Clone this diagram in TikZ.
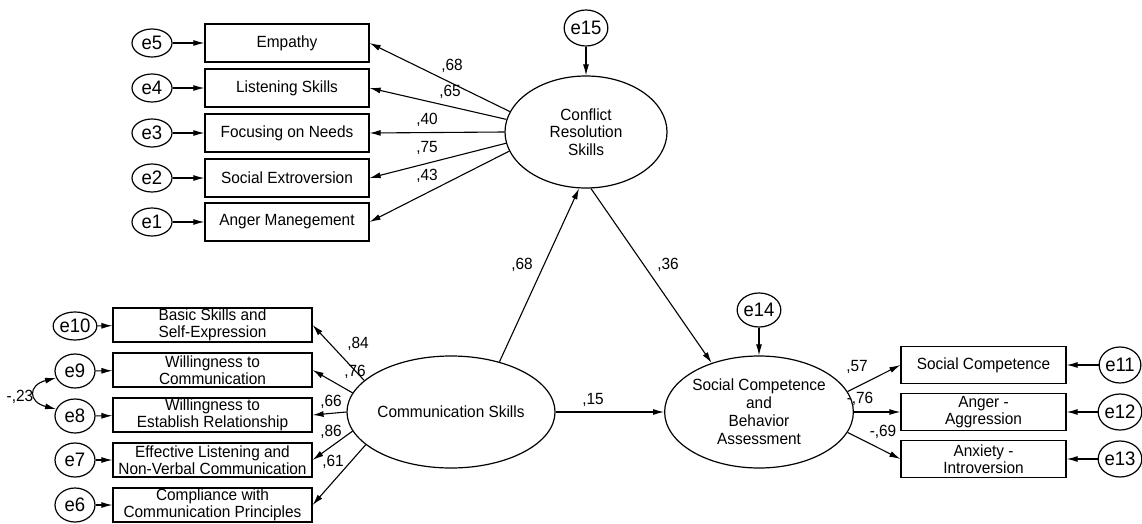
\documentclass[tikz,border=0pt]{standalone}
\usepackage{fontspec}
\setmainfont[FakeStretch=0.95]{Liberation Sans}
\usetikzlibrary{arrows.meta,shapes.geometric}
\begin{document}
\begin{tikzpicture}[x=1pt,y=-1pt,
  every node/.style={inner sep=0pt},
  obs/.style={draw, line width=1.2pt, rectangle, align=center, font=\fontsize{16.2}{17}\selectfont},
  lat/.style={draw, ellipse, line width=1.2pt, minimum width=162pt, minimum height=112pt, align=center, font=\fontsize{16.2}{17.5}\selectfont},
  err/.style={draw, ellipse, line width=1.2pt, minimum width=40pt, minimum height=34pt, font=\fontsize{19.5}{20}\selectfont},
  errs/.style={err, minimum height=28pt},
  arr/.style={-{Latex[length=11pt,width=6pt]}, line width=1.1pt},
  lbl/.style={font=\fontsize{16.2}{17}\selectfont}
]
\useasboundingbox (0,0) rectangle (1142,524);

% top measured block
\foreach \n/\t/\y in {emp/Empathy/43, lis/Listening Skills/88, foc/Focusing on Needs/133, soc/Social Extroversion/178, ang/Anger Manegement/222}{
  \node[obs, minimum width=164pt, minimum height=38pt] (\n) at (287,\y) {\t};
}
\foreach \e/\y in {5/43, 4/88, 3/133, 2/178, 1/222}{
  \node[errs] (e\e) at (152,\y) {e\e};
}
\draw[arr] (e5) -- (emp);
\draw[arr] (e4) -- (lis);
\draw[arr] (e3) -- (foc);
\draw[arr] (e2) -- (soc);
\draw[arr] (e1) -- (ang);

% Conflict resolution
\node[lat] (cr) at (586,132) {Conflict\\Resolution\\Skills};
\node[err, minimum height=36pt] (e15) at (586,28) {e15};
\draw[arr] (e15) -- (cr);
\draw[arr] (cr.165) -- (emp.east);
\draw[arr] (cr.171) -- (lis.east);
\draw[arr] (cr.180) -- (foc.east);
\draw[arr] (cr.188) -- (soc.east);
\draw[arr] (cr.194) -- (ang.east);
\node[lbl] (l68a) at (452,66) {,68};
\node[lbl] (l65) at (450,92) {,65};
\node[lbl] (l40) at (427,120) {,40};
\node[lbl] (l75) at (427,148) {,75};
\node[lbl] (l43) at (427,176) {,43};

% Communication skills
\node[lat, font=\fontsize{16.2}{17}\selectfont] (com) at (451,412) {Communication Skills};
\node[obs, minimum width=199pt, minimum height=34pt] (bas) at (212.5,325) {Basic Skills and\\Self-Expression};
\node[obs, minimum width=199pt, minimum height=34pt] (wic) at (212.5,370) {Willingness to\\Communication};
\node[obs, minimum width=199pt, minimum height=34pt] (wie) at (212.5,415) {Willingness to\\Establish Relationship};
\node[obs, minimum width=199pt, minimum height=34pt] (eff) at (212.5,460) {Effective Listening and\\Non-Verbal Communication};
\node[obs, minimum width=199pt, minimum height=34pt] (cmp) at (212.5,505) {Compliance with\\Communication Principles};
\node[err, minimum width=42pt, minimum height=28pt] (e10) at (75,326) {e10};
\node[err] (e9) at (75,371) {e9};
\node[err] (e8) at (75,416) {e8};
\node[err] (e7) at (75,460) {e7};
\node[err] (e6) at (75,505) {e6};
\draw[arr] (e10) -- (bas);
\draw[arr] (e9) -- (wic);
\draw[arr] (e8) -- (wie);
\draw[arr] (e7) -- (eff);
\draw[arr] (e6) -- (cmp);
\draw[{Latex[length=11pt,width=6pt]}-{Latex[length=11pt,width=6pt]}, line width=1.1pt]
  (e9.200) .. controls (28,385) and (28,402) .. (e8.160);
\node[lbl] (l23) at (20,397) {-,23};
\draw[arr] (com.160) -- (bas.east);
\draw[arr] (com.169) -- (wic.east);
\draw[arr] (com.180) -- (wie.east);
\draw[arr] (com.191) -- (eff.east);
\draw[arr] (com.201) -- (cmp.east);
\node[lbl] (l84) at (358,344) {,84};
\node[lbl] (l76) at (355,372) {,76};
\node[lbl] (l66) at (331,402) {,66};
\node[lbl] (l86) at (331,432) {,86};
\node[lbl] (l61) at (333,462) {,61};

% Social competence
\node[lat, font=\fontsize{16.2}{18}\selectfont] (sc) at (759,412) {Social Competence\\and\\Behavior\\Assessment};
\node[err] (e14) at (759,310) {e14};
\draw[arr] (e14) -- (sc);
\draw[arr] (com.46) -- (cr.263);
\draw[arr] (cr.275) -- (sc.134);
\draw[arr] (com) -- (sc);
\node[lbl] (l68b) at (522,265) {,68};
\node[lbl] (l36) at (668,265) {,36};
\node[lbl] (l15) at (593,400) {,15};

\node[obs, minimum width=165pt, minimum height=37pt] (scm) at (983.5,365) {Social Competence};
\node[obs, minimum width=165pt, minimum height=37pt] (agg) at (983.5,412) {Anger -\\Aggression};
\node[obs, minimum width=165pt, minimum height=37pt] (anx) at (983.5,459) {Anxiety -\\Introversion};
\node[err, minimum height=36pt] (e11) at (1120,365) {e11};
\node[err, minimum height=36pt] (e12) at (1120,412) {e12};
\node[err, minimum height=36pt] (e13) at (1120,459) {e13};
\draw[arr] (e11) -- (scm);
\draw[arr] (e12) -- (agg);
\draw[arr] (e13) -- (anx);
\draw[arr] (sc.13.5) -- (scm.west);
\draw[arr] (sc.0) -- (agg.west);
\draw[arr] (sc.-13) -- (anx.west);
\node[lbl] (l57) at (857,367) {,57};
\node[lbl] (l76b) at (860,399) {-,76};
\node[lbl] (l69) at (883,432) {-,69};
\end{tikzpicture}
\end{document}
